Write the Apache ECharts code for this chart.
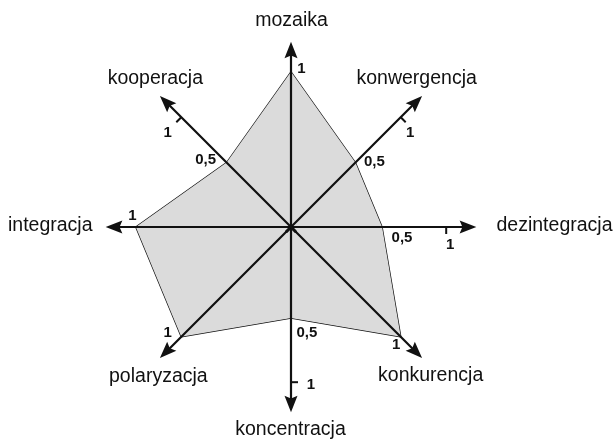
<!DOCTYPE html>
<html>
<head>
<meta charset="utf-8">
<script src="https://cdn.jsdelivr.net/npm/echarts@6/dist/echarts.min.js"></script>
<style>
html,body{margin:0;padding:0;background:#fff;}
#chart{width:615px;height:441px;}
</style>
</head>
<body>
<div id="chart"></div>
<script>
// ---- data ----
const axisNames = ['mozaika', 'kooperacja', 'integracja', 'polaryzacja', 'koncentracja', 'konkurencja', 'dezintegracja', 'konwergencja'];
const values = [1, 0.5, 1, 1, 0.5, 1, 0.5, 0.5];
const tickAxes = [1, 4, 6, 7];
const tickValue = 1;
const AXIS_MIN = -0.21;
const AXIS_MAX = 1.17;

// ---- layout (label offsets relative to points) ----
const nameLayout = [
  { pos: [1, -29], align: 'center' },
  { pos: [-10, -23], align: 'center' },
  { pos: [-21, -1], align: 'right' },
  { pos: [-7, 25], align: 'center' },
  { pos: [0, 26], align: 'center' },
  { pos: [15, 24], align: 'center' },
  { pos: [29, -1], align: 'left' },
  { pos: [1, -23], align: 'center' }
];
const valueLayout = [
  { pos: [11, -2], align: 'center' },
  { pos: [-10, -2], align: 'right' },
  { pos: [-3, -11], align: 'center' },
  { pos: [-13, -3], align: 'center' },
  { pos: [6, 15], align: 'left' },
  { pos: [-4, 9], align: 'center' },
  { pos: [10, 11], align: 'left' },
  { pos: [9, 0], align: 'left' }
];
// offsets are relative to the rotated tick's bounding-box corner
const tickLayout = {
  1: { pos: [-8, 21], rot: 135 },
  4: { pos: [27, 4], rot: -90 },
  6: { pos: [5, 25], rot: 180 },
  7: { pos: [15, 21], rot: -135 }
};

const fmt = v => String(v).replace('.', ',');
function onlyAt(k, text) {
  return function (p) {
    const d = p.dimensionIndex;
    if (d == null) return (typeof p.value === 'number' && p.value !== AXIS_MIN) ? text : '';
    return d === k ? text : '';
  };
}
function valuesAt(k, v) {
  return axisNames.map((_, i) => (i === k ? v : AXIS_MIN));
}

const FONT = "'Liberation Sans', Arial, Helvetica, sans-serif";
const INK = '#111';
const TICK_PATH = 'path://M-1,-10L1,-10L1,0L-1,0Z M0,10L0,10';
const ARROW_PATH = 'path://M0,0L7,18L0,15L-7,18Z';

const nameItems = axisNames.map((n, k) => ({
  value: valuesAt(k, AXIS_MAX),
  label: { show: true, position: nameLayout[k].pos, align: nameLayout[k].align, verticalAlign: 'middle', formatter: onlyAt(k, n) }
}));
const valueItems = values.map((v, k) => ({
  value: valuesAt(k, v),
  label: { show: true, position: valueLayout[k].pos, align: valueLayout[k].align, verticalAlign: 'middle', formatter: onlyAt(k, fmt(v)) }
}));
const tickItems = tickAxes.map(k => ({
  value: valuesAt(k, tickValue),
  symbolRotate: tickLayout[k].rot,
  label: { show: true, position: tickLayout[k].pos, align: 'center', verticalAlign: 'middle', formatter: onlyAt(k, fmt(tickValue)) }
}));

const chart = echarts.init(document.getElementById('chart'), null, { renderer: 'canvas' });
chart.setOption({
  animation: false,
  backgroundColor: '#fff',
  radar: {
    center: [291, 227],
    radius: 177,
    startAngle: 90,
    z: 3,
    indicator: axisNames.map(n => ({ name: n, min: AXIS_MIN, max: AXIS_MAX })),
    axisName: { show: false },
    splitLine: { show: false },
    splitArea: { show: false },
    axisTick: { show: false },
    axisLabel: { show: false },
    axisLine: {
      show: true,
      symbol: ['none', ARROW_PATH],
      symbolSize: [13, 18],
      lineStyle: { color: INK, width: 2.2 }
    }
  },
  series: [
    {
      type: 'radar',
      z: 1,
      symbol: 'none',
      lineStyle: { color: INK, width: 1.4 },
      areaStyle: { color: '#dbdbdb', opacity: 1 },
      data: [{ value: values }]
    },
    {
      type: 'radar',
      z: 5,
      symbol: 'circle',
      symbolSize: 1,
      itemStyle: { color: 'rgba(0,0,0,0)' },
      lineStyle: { width: 0, opacity: 0 },
      label: { fontFamily: FONT, fontSize: 19.5, color: INK },
      data: nameItems
    },
    {
      type: 'radar',
      z: 5,
      symbol: 'circle',
      symbolSize: 1,
      itemStyle: { color: 'rgba(0,0,0,0)' },
      lineStyle: { width: 0, opacity: 0 },
      label: { fontFamily: FONT, fontSize: 15, fontWeight: 'bold', color: INK },
      data: valueItems
    },
    {
      type: 'radar',
      z: 5,
      symbol: TICK_PATH,
      symbolSize: [2, 14],
      itemStyle: { color: INK },
      lineStyle: { width: 0, opacity: 0 },
      label: { fontFamily: FONT, fontSize: 15, fontWeight: 'bold', color: INK },
      data: tickItems
    }
  ]
});
</script>
</body>
</html>
